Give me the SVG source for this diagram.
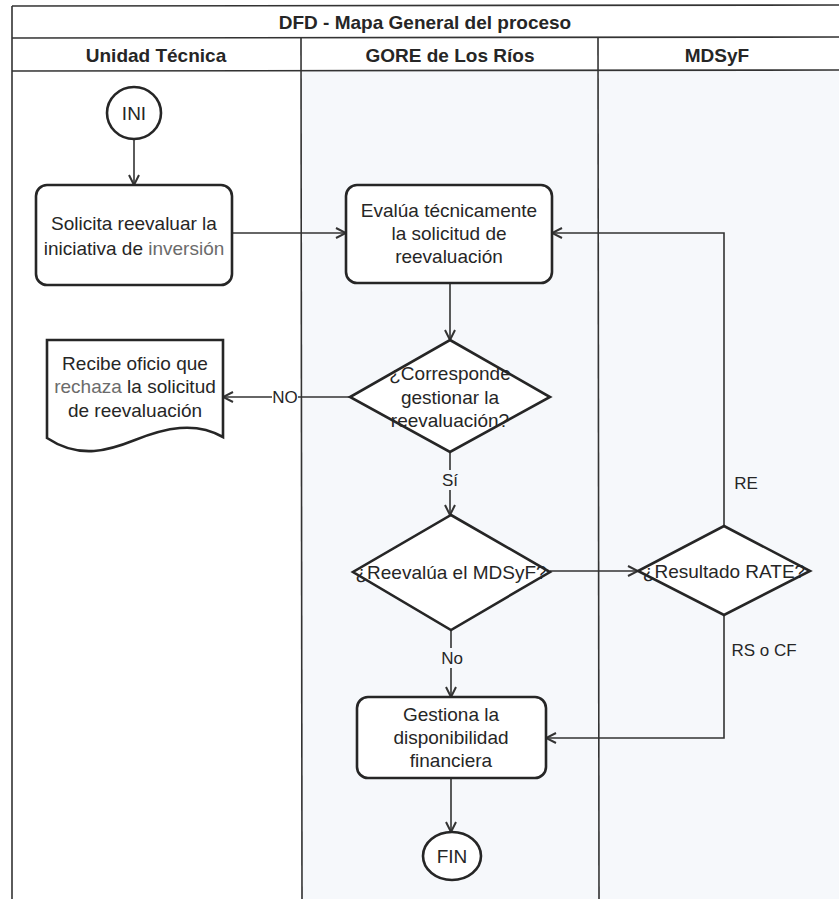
<svg xmlns="http://www.w3.org/2000/svg" width="839" height="899" viewBox="0 0 839 899">
<defs>
<style>
.lane{stroke:#333;stroke-width:1.6;fill:none}
.shape{fill:#fff;stroke:#262626;stroke-width:2.6}
.t{font-family:"Liberation Sans",Arial,sans-serif;font-size:19px;fill:#262626;text-anchor:middle;dominant-baseline:central}
.h{font-family:"Liberation Sans",Arial,sans-serif;font-size:19px;font-weight:bold;fill:#262626;text-anchor:middle;dominant-baseline:central}
.lbl{font-family:"Liberation Sans",Arial,sans-serif;font-size:17px;fill:#262626;text-anchor:middle;dominant-baseline:central}
.c{fill:none;stroke:#333;stroke-width:1.6}
.dim{fill:#6b6b6b}
</style>
<marker id="arr" viewBox="0 0 12 12" refX="11" refY="6" markerWidth="12" markerHeight="12" markerUnits="userSpaceOnUse" orient="auto">
<path d="M1,1 L11,6 L1,11" fill="none" stroke="#333" stroke-width="2"/>
</marker>
</defs>
<rect x="0" y="0" width="839" height="899" fill="#fff"/>
<rect x="301" y="71" width="538" height="828" fill="#f6f8fb"/>
<g id="pool">
<line class="lane" x1="12" y1="6" x2="839" y2="5"/>
<line class="lane" x1="12" y1="38" x2="839" y2="37"/>
<line class="lane" x1="12" y1="71" x2="839" y2="70"/>
<line class="lane" x1="12" y1="6" x2="12" y2="899"/>
<line class="lane" x1="301" y1="38" x2="302" y2="899"/>
<line class="lane" x1="598" y1="38" x2="599" y2="899"/>
<text class="h" x="425" y="22">DFD - Mapa General del proceso</text>
<text class="h" x="156" y="55">Unidad Técnica</text>
<text class="h" x="450" y="55">GORE de Los Ríos</text>
<text class="h" x="717" y="55">MDSyF</text>
</g>
<g id="connectors">
<line class="c" x1="134" y1="139" x2="134" y2="185" marker-end="url(#arr)"/>
<line class="c" x1="232" y1="233" x2="346" y2="233" marker-end="url(#arr)"/>
<line class="c" x1="450" y1="283" x2="450" y2="340" marker-end="url(#arr)"/>
<line class="c" x1="350" y1="397" x2="223" y2="397" marker-end="url(#arr)"/>
<rect x="272" y="388" width="26" height="18" fill="#fff"/>
<text class="lbl" x="285" y="397">NO</text>
<line class="c" x1="450" y1="452" x2="450" y2="515" marker-end="url(#arr)"/>
<rect x="440" y="470" width="20" height="20" fill="#f6f8fb"/>
<text class="lbl" x="450" y="480">Sí</text>
<line class="c" x1="550" y1="571" x2="638" y2="571" marker-end="url(#arr)"/>
<polyline class="c" points="724,526 724,233 552,233" marker-end="url(#arr)"/>
<text class="lbl" x="746" y="483">RE</text>
<polyline class="c" points="724,615 724,738 546,738" marker-end="url(#arr)"/>
<text class="lbl" x="764" y="650">RS o CF</text>
<line class="c" x1="451" y1="630" x2="451" y2="697" marker-end="url(#arr)"/>
<rect x="439" y="648" width="24" height="20" fill="#f6f8fb"/>
<text class="lbl" x="452" y="658">No</text>
<line class="c" x1="451" y1="778" x2="451" y2="832" marker-end="url(#arr)"/>
</g>
<g id="ini">
<ellipse class="shape" cx="134" cy="113" rx="27" ry="26"/>
<text class="t" x="134" y="113">INI</text>
</g>
<g id="solicita">
<rect class="shape" x="36" y="185" width="196" height="100" rx="11"/>
<text class="t" x="134" y="223">Solicita reevaluar la</text>
<text class="t" x="134" y="248">iniciativa de <tspan class="dim">inversión</tspan></text>
</g>
<g id="evalua">
<rect class="shape" x="346" y="185" width="206" height="98" rx="11"/>
<text class="t" x="449" y="210">Evalúa técnicamente</text>
<text class="t" x="449" y="233">la solicitud de</text>
<text class="t" x="449" y="256">reevaluación</text>
</g>
<g id="corresponde">
<polygon class="shape" points="450,340 550,397 450,452 350,397"/>
<text class="t" x="450" y="373">¿Corresponde</text>
<text class="t" x="450" y="397">gestionar la</text>
<text class="t" x="450" y="420">reevaluación?</text>
</g>
<g id="recibe">
<path class="shape" d="M47,340 H223 V437 C195,421 165,428 135,440 C110,450 80,460 47,438 Z"/>
<text class="t" x="135" y="363">Recibe oficio que</text>
<text class="t" x="135" y="386"><tspan class="dim">rechaza</tspan> la solicitud</text>
<text class="t" x="135" y="410">de reevaluación</text>
</g>
<g id="reevalua">
<polygon class="shape" points="451,515 550,572 451,630 353,572"/>
<text class="t" x="451" y="572">¿Reevalúa el MDSyF?</text>
</g>
<g id="resultado">
<polygon class="shape" points="724,526 810,571 724,615 638,571"/>
<text class="t" x="724" y="571">¿Resultado RATE?</text>
</g>
<g id="gestiona">
<rect class="shape" x="357" y="697" width="189" height="81" rx="11"/>
<text class="t" x="451" y="714">Gestiona la</text>
<text class="t" x="451" y="737">disponibilidad</text>
<text class="t" x="451" y="760">financiera</text>
</g>
<g id="fin">
<ellipse class="shape" cx="452" cy="856" rx="29" ry="24"/>
<text class="t" x="452" y="856">FIN</text>
</g>
</svg>
